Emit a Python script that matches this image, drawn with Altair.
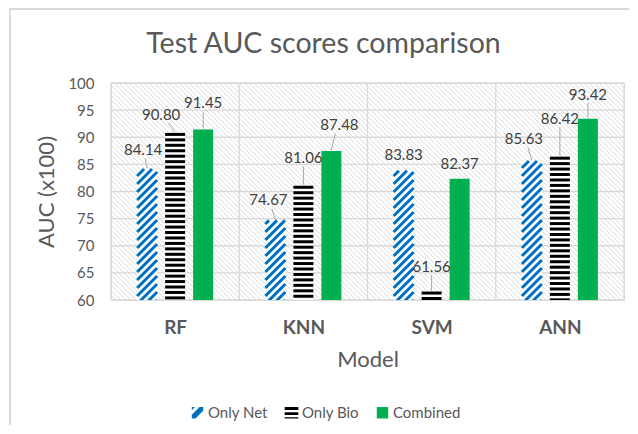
import altair as alt
import pandas as pd
import numpy as np

# ---------------- data ----------------
models = ["RF", "KNN", "SVM", "ANN"]
series_names = ["Only Net", "Only Bio", "Combined"]
only_net = [84.14, 74.67, 83.83, 85.63]
only_bio = [90.80, 81.06, 61.56, 86.42]
combined = [91.45, 87.48, 82.37, 93.42]
y_ticks = [60, 65, 70, 75, 80, 85, 90, 95, 100]

# manual data-label nudges in px (dx, dy) from the top-centre of each bar
nudge = {
    "Only Net": [(-4, -19), (-7, -20), (0, -16), (-8, -22)],
    "Only Bio": [(-14, -18), (0, -28), (0, -25), (0, -38)],
    "Combined": [(0, -26), (8, -26), (0, -15), (0, -24)],
}

# ---------------- layout / style ----------------
W, H = 513, 217
Y0, Y1 = 60, 100
PXX = W / len(models)
PXY = H / (Y1 - Y0)
BAR_W = 20
GAP = 28
FONT = "Lato"
GREY = "#595959"
LABEL_GREY = "#404040"
GRID = "#d9d9d9"
colors = ["#0070C0", "#000000", "#00B050"]

values = {"Only Net": only_net, "Only Bio": only_bio, "Combined": combined}

rows = []
for s_i, s in enumerate(series_names):
    for i, m in enumerate(models):
        v = values[s][i]
        cx = i + 0.5 + (s_i - 1) * GAP / PXX
        dx, dy = nudge[s][i]
        rows.append(dict(model=m, series=s, value=v, base=Y0,
                         cx=cx, x1=cx - BAR_W / 2 / PXX, x2=cx + BAR_W / 2 / PXX,
                         lx=cx + dx / PXX, ly=v - dy / PXY, label=f"{v:.2f}",
                         lead=(-dy >= 18),
                         lsx=cx + dx * 0.5 / PXX, lsy=v + (-dy - 8.5) / PXY,
                         ley=v + 1 / PXY))
bars = pd.DataFrame(rows)

# background hatch ("\" lines) in the plot area
step = 5
hatch = pd.DataFrame([dict(x=x0 / PXX, x2=(x0 + H) / PXX, y=Y1, y2=Y0)
                      for x0 in np.arange(-H, W + step, step)])

# diagonal stripes ("/") for Only Net bars
net_rows = []
for i, v in enumerate(only_net):
    cx = i + 0.5 - GAP / PXX
    xl = cx * PXX - BAR_W / 2
    h = (v - Y0) * PXY
    for yb in np.arange(-BAR_W, h, 8.0):
        xe, ye = xl + BAR_W, yb + BAR_W
        if ye > h:
            xe, ye = xl + (h - yb), h
        net_rows.append(dict(x=xl / PXX, x2=xe / PXX, y=Y0 + yb / PXY, y2=Y0 + ye / PXY))
net_stripes = pd.DataFrame(net_rows)

# horizontal stripes for Only Bio bars
bio_rows = []
for i, v in enumerate(only_bio):
    cx = i + 0.5
    t = v
    while t > Y0:
        b = max(t - 3.0 / PXY, Y0)
        bio_rows.append(dict(x=cx - BAR_W / 2 / PXX, x2=cx + BAR_W / 2 / PXX, y=b, y2=t))
        t -= 5.45 / PXY
bio_stripes = pd.DataFrame(bio_rows)

grid_h = pd.DataFrame({"y": y_ticks})
grid_v = pd.DataFrame({"x": list(range(len(models) + 1))})
legend_df = pd.DataFrame({"series": series_names})

xs = alt.Scale(domain=[0, len(models)], nice=False, zero=False)
ys = alt.Scale(domain=[Y0, Y1], nice=False, zero=False)

label_expr = "[" + ",".join(f"'{m}'" for m in models) + "][floor(datum.value)]"

x_axis = alt.Axis(values=[i + 0.5 for i in range(len(models))], labelExpr=label_expr,
                  grid=False, domain=False, ticks=False, labelFont=FONT,
                  labelFontSize=19, labelFontWeight="bold", labelColor=GREY,
                  labelPadding=18, title="Model", titleFont=FONT, titleFontSize=22,
                  titleFontWeight="normal", titleColor=GREY, titlePadding=12)
y_axis = alt.Axis(values=y_ticks, grid=False, domain=False, ticks=False, labelFont=FONT,
                  labelFontSize=15, labelColor=GREY, labelPadding=17,
                  title="AUC (x100)", titleFont=FONT, titleFontSize=22,
                  titleFontWeight="normal", titleColor=GREY, titlePadding=9)


def X(field):
    return alt.X(field, scale=xs, axis=x_axis)


def Y(field):
    return alt.Y(field, scale=ys, axis=y_axis)


border = alt.Chart(legend_df).mark_rect(fill="white", fillOpacity=0, stroke=GRID,
                                        strokeWidth=1.3, clip=False).encode(
    x=alt.value(-101), x2=alt.value(900), y=alt.value(-74), y2=alt.value(700))

hatch_layer = alt.Chart(hatch).mark_rule(stroke="#dcdcdc", strokeWidth=1, clip=True).encode(
    x=X("x:Q"), x2="x2:Q", y=Y("y:Q"), y2="y2:Q")

grid_h_layer = alt.Chart(grid_h).mark_rule(stroke=GRID, strokeWidth=1.3).encode(y=Y("y:Q"))
grid_v_layer = alt.Chart(grid_v).mark_rule(stroke=GRID, strokeWidth=1.3).encode(x=X("x:Q"))

bar_base = alt.Chart(bars).transform_filter(alt.datum.series != "Combined").mark_rect(fill="white").encode(
    x=X("x1:Q"), x2="x2:Q", y=Y("value:Q"), y2="base:Q")

comb_layer = alt.Chart(bars).transform_filter(alt.datum.series == "Combined").mark_rect(fill=colors[2]).encode(
    x=X("x1:Q"), x2="x2:Q", y=Y("value:Q"), y2="base:Q")

net_layer = alt.Chart(net_stripes).mark_rule(stroke=colors[0], strokeWidth=3, clip=True).encode(
    x=X("x:Q"), x2="x2:Q", y=Y("y:Q"), y2="y2:Q")

bio_layer = alt.Chart(bio_stripes).mark_rect(fill=colors[1]).encode(
    x=X("x:Q"), x2="x2:Q", y=Y("y:Q"), y2="y2:Q")

leader_layer = alt.Chart(bars).transform_filter(alt.datum.lead).mark_rule(stroke="#a6a6a6", strokeWidth=1).encode(
    x=X("lsx:Q"), x2="cx:Q", y=Y("lsy:Q"), y2="ley:Q")

text_layer = alt.Chart(bars).mark_text(font=FONT, fontSize=15, color=LABEL_GREY, baseline="middle").encode(
    x=X("lx:Q"), y=Y("ly:Q"), text="label:N")

net_path = "M-1,-1L-0.45,-1L-1,-0.45Z M-1,1L-1,0.35L0.35,-1L1,-1L1,-0.35L-0.35,1Z"
bio_path = "M-1.2,-1H1.2V-0.5H-1.2Z M-1.2,-0.1H1.2V0.4H-1.2Z M-1.2,0.8H1.2V1H-1.2Z"

# helper points only for the legend: placed outside the clipped plot area
legend_layer = alt.Chart(legend_df).mark_point(filled=True, opacity=1, clip=True).encode(
    x=alt.value(-60), y=alt.value(-60),
    color=alt.Color("series:N", scale=alt.Scale(domain=series_names, range=colors),
                    legend=alt.Legend(title=None, orient="none", legendX=79, legendY=322,
                                      direction="horizontal", symbolSize=130,
                                      symbolStrokeWidth=0, symbolOpacity=1,
                                      labelFont=FONT, labelFontSize=15, labelColor=GREY,
                                      columnPadding=16, labelOffset=3)),
    shape=alt.Shape("series:N", scale=alt.Scale(domain=series_names,
                                                range=[net_path, bio_path, "square"])))

chart = alt.layer(
    border, hatch_layer, grid_h_layer, grid_v_layer, bar_base, comb_layer,
    net_layer, bio_layer, leader_layer, text_layer, legend_layer
).properties(
    width=W, height=H,
    autosize=alt.AutoSizeParams(type="none"),
    padding={"left": 103, "top": 75, "right": 5, "bottom": 125},
    title=alt.Title("Test AUC scores comparison", font=FONT, fontSize=28.5,
                    fontWeight="normal", color=GREY, anchor="middle", dx=-44,
                    offset=0, dy=50),
).configure_view(stroke=None).configure(background="white")

chart.save("out.html", embed_options={"renderer": "svg", "actions": False})
